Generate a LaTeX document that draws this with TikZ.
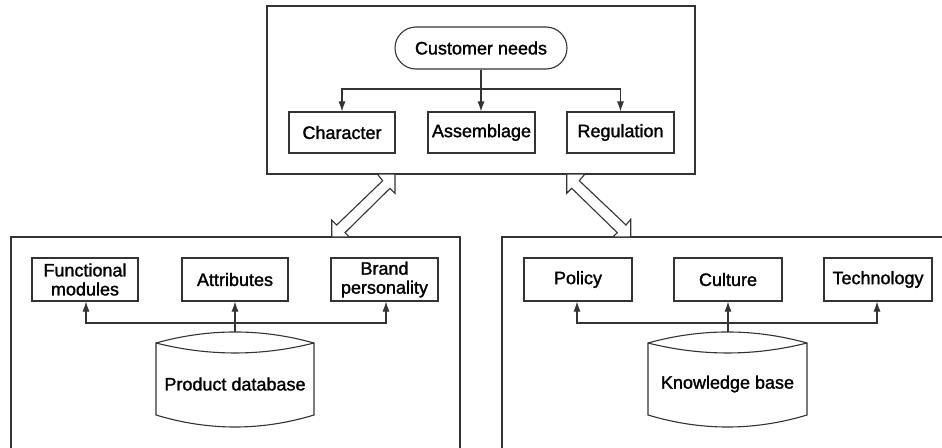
\documentclass[tikz,border=0pt]{standalone}
\usepackage{fontspec}
\setmainfont{Liberation Sans}
\newfontfamily\lblfont[FakeBold=1.5]{Liberation Sans}
\usetikzlibrary{arrows.meta}

\begin{document}
\begin{tikzpicture}[x=1pt, y=-1pt,
  ln/.style={draw=black!80, line width=1.1pt},
  frame/.style={ln, rectangle, inner sep=0pt, fill=white},
  item/.style={ln, rectangle, inner sep=0pt, minimum height=42pt,
               font=\lblfont\fontsize{18pt}{19pt}\selectfont, align=center},
  txt/.style={inner sep=0pt, font=\lblfont\fontsize{18pt}{19pt}\selectfont},
  arr/.style={ln, -{Latex[length=10pt,width=7pt]}},
  link/.style={ln, line join=miter, fill=white},
]
\useasboundingbox (0,0) rectangle (942,447);
\clip (0,0) rectangle (942,447);

% ---- containers ----
\node[frame, minimum width=428pt, minimum height=168pt] (top) at (481,90) {};
\node[frame, minimum width=449pt, minimum height=233pt] (left) at (235.5,353.5) {};
\node[frame, minimum width=468pt, minimum height=233pt] (right) at (736,353.5) {};

% ---- customer needs ----
\node[item, minimum width=172pt, rounded corners=21pt] (cn) at (481,48) {Customer needs};
\node[item, minimum width=106pt, minimum height=41pt] (ch) at (342,132.5) {Character};
\node[item, minimum width=107pt, minimum height=41pt] (as) at (481.5,132.5) {Assemblage};
\node[item, minimum width=107pt, minimum height=41pt] (rg) at (620.5,132.5) {Regulation};
\coordinate (cj) at (481,89);
\draw[arr] (cn.south) -- (as.north -| cn.south);
\draw[arr] (cj) -| (ch.north);
\draw[arr] (cj) -| (rg.north);

% ---- two-way links between the containers ----
\draw[link] (377.3,174) -- (395,174) -- (395,193.3) -- (390,188.3) -- (345,232.7)
  -- (349.3,237) -- (331.7,237) -- (331.7,220) -- (336.7,225) -- (382.7,180.7) -- cycle;
\draw[link] (566.7,174) -- (585,174) -- (579.3,180.7) -- (626,225) -- (630.7,219.3)
  -- (630.7,237) -- (612.7,237) -- (617.3,232.7) -- (571.7,188.3) -- (566.7,193.3) -- cycle;

% ---- product side ----
\node[item, minimum width=106pt, minimum height=43pt] (fm) at (85,279.5) {Functional\\modules};
\node[item, minimum width=106pt, minimum height=43pt] (at) at (235,279.5) {Attributes};
\node[item, minimum width=107pt, minimum height=43pt] (bp) at (384.5,279.5) {Brand\\personality};
\draw[ln] (156,343) .. controls (208.7,328.3) and (261.3,328.3) .. (314,343)
  -- (314,415) .. controls (261.3,431) and (208.7,431) .. (156,415) -- cycle;
\draw[ln] (156,343) .. controls (208.7,356.3) and (261.3,356.3) .. (314,343);
\node[txt] (pdb) at (235,384) {Product database};
\coordinate (pdbtop) at (235,332);
\coordinate (pj) at (235,323);
\draw[arr] (pdbtop) -- (at.south);
\draw[arr] (pj) -| ([xshift=1pt]fm.south);
\draw[arr] (pj) -| ([xshift=1.5pt]bp.south);

% ---- knowledge side ----
\node[item, minimum width=108pt, minimum height=43pt] (po) at (578,279.5) {Policy};
\node[item, minimum width=108pt, minimum height=43pt] (cu) at (728,279.5) {Culture};
\node[item, minimum width=108pt, minimum height=43pt] (te) at (878,279.5) {Technology};
\draw[ln] (648,343) .. controls (701,328.3) and (754,328.3) .. (807,343)
  -- (807,415) .. controls (754,431) and (701,431) .. (648,415) -- cycle;
\draw[ln] (648,343) .. controls (701,356.3) and (754,356.3) .. (807,343);
\node[txt] (kb) at (727.5,384) {Knowledge base};
\coordinate (kbtop) at (728,332);
\coordinate (kj) at (728,323);
\draw[arr] (kbtop) -- (cu.south);
\draw[arr] (kj) -| ([xshift=-1pt]po.south);
\draw[arr] (kj) -| ([xshift=-1pt]te.south);
\end{tikzpicture}
\end{document}
